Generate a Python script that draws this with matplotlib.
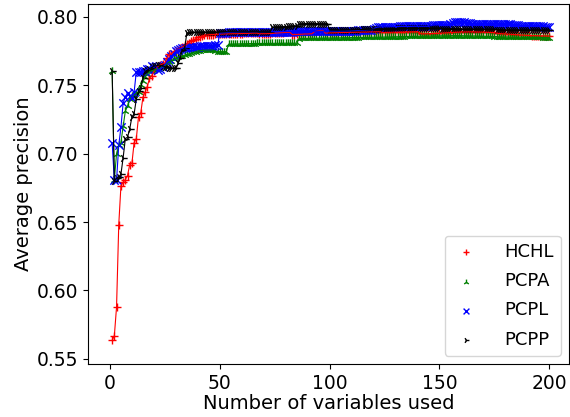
import numpy as np
import matplotlib
matplotlib.use('Agg')
import matplotlib.pyplot as plt

n_vars = np.arange(1, 201)

hchl = [
    0.5635, 0.5670, 0.5880, 0.6480, 0.6765, 0.6790, 0.6810, 0.6840, 0.6920, 0.6930,
    0.7080, 0.7110, 0.7270, 0.7295, 0.7410, 0.7450, 0.7490, 0.7550, 0.7570, 0.7600,
    0.7620, 0.7640, 0.7650, 0.7655, 0.7660, 0.7700, 0.7725, 0.7730, 0.7745, 0.7750,
    0.7760, 0.7770, 0.7780, 0.7790, 0.7800, 0.7810, 0.7820, 0.7830, 0.7840, 0.7850,
    0.7855, 0.7860, 0.7865, 0.7866, 0.7868, 0.7870, 0.7870, 0.7872, 0.7872, 0.7873,
    0.7873, 0.7874, 0.7874, 0.7875, 0.7875, 0.7876, 0.7876, 0.7876, 0.7877, 0.7877,
    0.7878, 0.7878, 0.7878, 0.7879, 0.7880, 0.7880, 0.7880, 0.7875, 0.7876, 0.7876,
    0.7876, 0.7877, 0.7877, 0.7878, 0.7880, 0.7881, 0.7882, 0.7883, 0.7884, 0.7885,
    0.7885, 0.7886, 0.7870, 0.7870, 0.7871, 0.7871, 0.7872, 0.7873, 0.7874, 0.7874,
    0.7875, 0.7876, 0.7890, 0.7895, 0.7898, 0.7899, 0.7900, 0.7880, 0.7881, 0.7882,
    0.7882, 0.7883, 0.7883, 0.7884, 0.7884, 0.7885, 0.7885, 0.7885, 0.7886, 0.7886,
    0.7886, 0.7887, 0.7887, 0.7887, 0.7888, 0.7888, 0.7888, 0.7889, 0.7889, 0.7889,
    0.7890, 0.7890, 0.7890, 0.7885, 0.7885, 0.7886, 0.7886, 0.7886, 0.7887, 0.7887,
    0.7887, 0.7888, 0.7888, 0.7888, 0.7889, 0.7889, 0.7889, 0.7890, 0.7890, 0.7891,
    0.7880, 0.7875, 0.7875, 0.7876, 0.7876, 0.7877, 0.7877, 0.7878, 0.7878, 0.7879,
    0.7880, 0.7881, 0.7882, 0.7883, 0.7884, 0.7885, 0.7886, 0.7887, 0.7887, 0.7888,
    0.7888, 0.7888, 0.7889, 0.7889, 0.7889, 0.7889, 0.7888, 0.7888, 0.7887, 0.7887,
    0.7886, 0.7886, 0.7885, 0.7885, 0.7884, 0.7880, 0.7878, 0.7876, 0.7875, 0.7874,
    0.7873, 0.7872, 0.7871, 0.7870, 0.7869, 0.7868, 0.7867, 0.7866, 0.7865, 0.7864,
    0.7863, 0.7862, 0.7862, 0.7861, 0.7861, 0.7860, 0.7860, 0.7860, 0.7859, 0.7859,
]

pcpa = [
    0.7600, 0.6810, 0.7000, 0.7060, 0.7080, 0.7200, 0.7310, 0.7350, 0.7400, 0.7420,
    0.7430, 0.7440, 0.7450, 0.7500, 0.7530, 0.7560, 0.7580, 0.7600, 0.7605, 0.7610,
    0.7615, 0.7620, 0.7625, 0.7630, 0.7640, 0.7660, 0.7670, 0.7680, 0.7690, 0.7700,
    0.7705, 0.7710, 0.7715, 0.7720, 0.7725, 0.7730, 0.7735, 0.7740, 0.7745, 0.7750,
    0.7752, 0.7754, 0.7755, 0.7756, 0.7756, 0.7757, 0.7755, 0.7750, 0.7745, 0.7745,
    0.7745, 0.7745, 0.7745, 0.7800, 0.7801, 0.7801, 0.7802, 0.7802, 0.7802, 0.7803,
    0.7803, 0.7803, 0.7804, 0.7804, 0.7804, 0.7804, 0.7805, 0.7805, 0.7805, 0.7805,
    0.7805, 0.7806, 0.7806, 0.7806, 0.7806, 0.7806, 0.7806, 0.7807, 0.7807, 0.7807,
    0.7807, 0.7807, 0.7807, 0.7807, 0.7808, 0.7840, 0.7841, 0.7841, 0.7842, 0.7842,
    0.7842, 0.7843, 0.7843, 0.7843, 0.7844, 0.7844, 0.7844, 0.7845, 0.7845, 0.7845,
    0.7845, 0.7846, 0.7846, 0.7846, 0.7846, 0.7847, 0.7847, 0.7847, 0.7847, 0.7848,
    0.7848, 0.7848, 0.7848, 0.7849, 0.7849, 0.7849, 0.7850, 0.7850, 0.7850, 0.7851,
    0.7851, 0.7851, 0.7852, 0.7852, 0.7852, 0.7853, 0.7853, 0.7853, 0.7854, 0.7854,
    0.7854, 0.7855, 0.7855, 0.7855, 0.7856, 0.7856, 0.7856, 0.7857, 0.7857, 0.7857,
    0.7858, 0.7858, 0.7858, 0.7859, 0.7859, 0.7859, 0.7860, 0.7860, 0.7860, 0.7860,
    0.7861, 0.7861, 0.7861, 0.7861, 0.7862, 0.7862, 0.7862, 0.7862, 0.7862, 0.7862,
    0.7861, 0.7861, 0.7861, 0.7860, 0.7860, 0.7860, 0.7859, 0.7859, 0.7858, 0.7858,
    0.7857, 0.7857, 0.7856, 0.7856, 0.7855, 0.7855, 0.7854, 0.7854, 0.7853, 0.7853,
    0.7853, 0.7852, 0.7852, 0.7852, 0.7851, 0.7851, 0.7851, 0.7850, 0.7850, 0.7850,
    0.7850, 0.7850, 0.7849, 0.7849, 0.7849, 0.7849, 0.7848, 0.7848, 0.7848, 0.7848,
]

pcpl = [
    0.7077, 0.6806, 0.6806, 0.7060, 0.7194, 0.7370, 0.7415, 0.7440, 0.7420, 0.7405,
    0.7450, 0.7598, 0.7598, 0.7598, 0.7600, 0.7602, 0.7620, 0.7615, 0.7640, 0.7630,
    0.7640, 0.7610, 0.7620, 0.7630, 0.7650, 0.7670, 0.7690, 0.7710, 0.7730, 0.7750,
    0.7760, 0.7765, 0.7770, 0.7772, 0.7774, 0.7776, 0.7778, 0.7780, 0.7781, 0.7782,
    0.7783, 0.7784, 0.7785, 0.7786, 0.7787, 0.7788, 0.7789, 0.7790, 0.7790, 0.7880,
    0.7882, 0.7883, 0.7884, 0.7885, 0.7886, 0.7886, 0.7887, 0.7887, 0.7888, 0.7888,
    0.7888, 0.7889, 0.7889, 0.7889, 0.7889, 0.7890, 0.7890, 0.7890, 0.7890, 0.7890,
    0.7891, 0.7891, 0.7891, 0.7891, 0.7891, 0.7891, 0.7892, 0.7892, 0.7892, 0.7892,
    0.7892, 0.7892, 0.7892, 0.7893, 0.7893, 0.7893, 0.7893, 0.7893, 0.7893, 0.7893,
    0.7894, 0.7894, 0.7894, 0.7894, 0.7894, 0.7894, 0.7894, 0.7894, 0.7895, 0.7895,
    0.7895, 0.7895, 0.7895, 0.7895, 0.7896, 0.7896, 0.7896, 0.7897, 0.7897, 0.7898,
    0.7898, 0.7899, 0.7900, 0.7901, 0.7902, 0.7903, 0.7904, 0.7905, 0.7906, 0.7910,
    0.7920, 0.7925, 0.7926, 0.7926, 0.7927, 0.7927, 0.7927, 0.7928, 0.7928, 0.7928,
    0.7928, 0.7929, 0.7929, 0.7929, 0.7929, 0.7929, 0.7929, 0.7930, 0.7930, 0.7930,
    0.7930, 0.7930, 0.7930, 0.7930, 0.7930, 0.7935, 0.7938, 0.7940, 0.7940, 0.7941,
    0.7941, 0.7942, 0.7942, 0.7943, 0.7945, 0.7955, 0.7960, 0.7963, 0.7963, 0.7962,
    0.7960, 0.7955, 0.7952, 0.7951, 0.7950, 0.7950, 0.7950, 0.7950, 0.7950, 0.7949,
    0.7949, 0.7949, 0.7948, 0.7948, 0.7948, 0.7948, 0.7947, 0.7947, 0.7946, 0.7946,
    0.7945, 0.7945, 0.7940, 0.7938, 0.7937, 0.7936, 0.7935, 0.7935, 0.7934, 0.7934,
    0.7933, 0.7933, 0.7932, 0.7932, 0.7931, 0.7930, 0.7929, 0.7928, 0.7927, 0.7926,
]

pcpp = [
    0.7600, 0.6800, 0.6820, 0.6830, 0.6850, 0.6970, 0.7110, 0.7120, 0.7180, 0.7270,
    0.7290, 0.7400, 0.7460, 0.7480, 0.7550, 0.7600, 0.7610, 0.7620, 0.7630, 0.7640,
    0.7640, 0.7645, 0.7645, 0.7640, 0.7635, 0.7630, 0.7628, 0.7626, 0.7625, 0.7625,
    0.7660, 0.7700, 0.7760, 0.7770, 0.7880, 0.7885, 0.7886, 0.7886, 0.7887, 0.7887,
    0.7887, 0.7888, 0.7888, 0.7888, 0.7888, 0.7889, 0.7889, 0.7889, 0.7889, 0.7889,
    0.7889, 0.7889, 0.7890, 0.7890, 0.7890, 0.7890, 0.7890, 0.7890, 0.7890, 0.7890,
    0.7890, 0.7890, 0.7890, 0.7891, 0.7891, 0.7891, 0.7891, 0.7891, 0.7891, 0.7891,
    0.7891, 0.7891, 0.7891, 0.7925, 0.7926, 0.7926, 0.7927, 0.7927, 0.7928, 0.7928,
    0.7929, 0.7930, 0.7931, 0.7932, 0.7935, 0.7945, 0.7948, 0.7949, 0.7950, 0.7950,
    0.7950, 0.7950, 0.7950, 0.7950, 0.7949, 0.7949, 0.7949, 0.7948, 0.7948, 0.7905,
    0.7904, 0.7904, 0.7903, 0.7903, 0.7903, 0.7903, 0.7903, 0.7904, 0.7904, 0.7904,
    0.7905, 0.7905, 0.7906, 0.7906, 0.7907, 0.7907, 0.7908, 0.7908, 0.7909, 0.7909,
    0.7910, 0.7910, 0.7911, 0.7911, 0.7912, 0.7912, 0.7913, 0.7913, 0.7914, 0.7914,
    0.7915, 0.7915, 0.7915, 0.7915, 0.7915, 0.7916, 0.7916, 0.7916, 0.7916, 0.7916,
    0.7916, 0.7916, 0.7916, 0.7916, 0.7916, 0.7915, 0.7915, 0.7915, 0.7915, 0.7915,
    0.7914, 0.7914, 0.7914, 0.7914, 0.7913, 0.7913, 0.7913, 0.7912, 0.7912, 0.7912,
    0.7911, 0.7911, 0.7911, 0.7910, 0.7910, 0.7910, 0.7909, 0.7909, 0.7909, 0.7908,
    0.7908, 0.7908, 0.7907, 0.7907, 0.7907, 0.7906, 0.7906, 0.7906, 0.7905, 0.7905,
    0.7905, 0.7905, 0.7904, 0.7904, 0.7904, 0.7904, 0.7904, 0.7903, 0.7903, 0.7903,
    0.7903, 0.7903, 0.7903, 0.7902, 0.7902, 0.7902, 0.7902, 0.7902, 0.7902, 0.7902,
]

series = [
    ('HCHL', hchl, 'red', '+'),
    ('PCPA', pcpa, 'green', '2'),
    ('PCPL', pcpl, 'blue', 'x'),
    ('PCPP', pcpp, 'black', '4'),
]

fig = plt.figure(figsize=(5.7, 4.17), dpi=100)
ax = fig.add_axes([88 / 570, 1 - 364 / 417, (569 - 88) / 570, 360 / 417])

for name, vals, col, mk in series:
    ax.plot(n_vars, vals, color=col, linewidth=0.8)
    ax.scatter(n_vars, vals, marker=mk, color=col, s=36, linewidths=1.0, label=name)

ax.set_xlim(-10, 209)
ax.set_ylim(0.5463, 0.8093)
ax.set_xticks([0, 50, 100, 150, 200])
ax.set_yticks([0.55, 0.60, 0.65, 0.70, 0.75, 0.80])
ax.tick_params(labelsize=13.5)
ax.set_xlabel('Number of variables used', fontsize=14, labelpad=1)
ax.set_ylabel('Average precision', fontsize=14, labelpad=3)
ax.legend(loc='lower right', fontsize=13, markerscale=0.7, handlelength=1.6,
          handletextpad=1.3, borderaxespad=0.45, labelspacing=0.62)

plt.savefig('out.png', dpi=100)
plt.close()
